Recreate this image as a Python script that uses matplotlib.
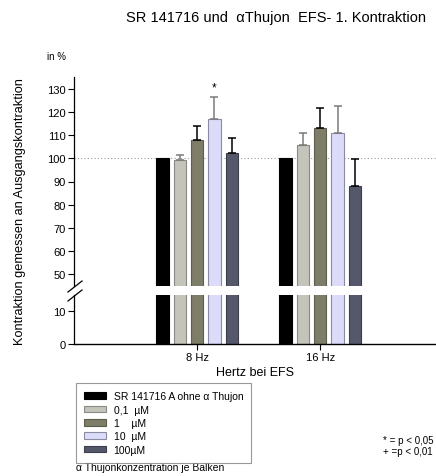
import numpy as np
import matplotlib.pyplot as plt
from matplotlib.patches import Patch

plt.rcParams['font.family'] = ['Liberation Sans', 'DejaVu Sans']

# Data
groups = ["8 Hz", "16 Hz"]
series = ["SR 141716 A ohne α Thujon", "0,1  µM", "1    µM", "10  µM", "100µM"]
values = np.array([
    [100, 99.1, 107.7, 116.9, 102.2],    # 8 Hz
    [100, 105.7, 112.9, 110.9, 88.2],    # 16 Hz
])
errors = np.array([
    [0, 2.2, 6.1, 9.5, 6.7],
    [0, 5.2, 8.9, 11.5, 11.5],
])
colors = ["#000000", "#c4c4ba", "#7d7d68", "#dcdcfa", "#55586a"]
edges = ["#000000", "#8a8a84", "#5e5e50", "#8c8ca0", "#3c3e4c"]
err_colors = ["black", "#7a7a7a", "black", "#7a7a7a", "black"]

W, H = 436, 477
fig = plt.figure(figsize=(W / 100, H / 100), dpi=100)

x0, x1 = 74, 436
ax_top = fig.add_axes([x0 / W, 1 - 287 / H, (x1 - x0) / W, (287 - 78) / H])
ax_bot = fig.add_axes([x0 / W, 1 - 345 / H, (x1 - x0) / W, (345 - 296) / H])

pos = np.arange(1, len(groups) + 1)
width = 0.1
step = 0.141
offsets = (np.arange(len(series)) - 2) * step

for ax in (ax_top, ax_bot):
    for i in range(len(series)):
        ax.bar(pos + offsets[i], values[:, i], width, color=colors[i],
               edgecolor=edges[i], linewidth=0.8, zorder=2)
    ax.set_xlim(0, 2.94)
    for s in ("top", "right"):
        ax.spines[s].set_visible(False)
    ax.tick_params(axis="y", labelsize=8, length=4, width=0.8, pad=2)
    ax.spines["left"].set_linewidth(0.9)

# error bars (upper only)
for i in range(len(series)):
    if errors[:, i].any():
        ax_top.errorbar(pos + offsets[i], values[:, i],
                        yerr=[np.zeros(len(groups)), errors[:, i]],
                        fmt="none", ecolor=err_colors[i], elinewidth=1.1,
                        capsize=3, capthick=1.1, zorder=3)

ax_top.set_ylim(45, 135)
ax_top.set_yticks(np.arange(50, 131, 10))
ax_top.spines["bottom"].set_visible(False)
ax_top.set_xticks([])
ax_top.axhline(100, color="#999999", linestyle=(0, (1, 2)), linewidth=0.8, zorder=1)
ax_top.text(pos[0] + offsets[3], 130.5, "*", ha="center", va="center", fontsize=8.5)

ax_bot.set_ylim(0, 15)
ax_bot.set_yticks([0, 10])
ax_bot.set_xticks(pos)
ax_bot.set_xticklabels(groups)
ax_bot.tick_params(axis="x", labelsize=8, length=4, width=0.8, pad=2)
ax_bot.spines["bottom"].set_linewidth(1.0)
ax_bot.set_xlabel("Hertz bei EFS", fontsize=9, labelpad=3)

# axis break marks
for dy in (0, 9):
    fig.add_artist(plt.Line2D([68 / W, 82 / W], [1 - (293 + dy) / H, 1 - (282 + dy) / H],
                              color="black", linewidth=0.9))

fig.text(276 / W, 1 - 18 / H, "SR 141716 und  αThujon  EFS- 1. Kontraktion",
         ha="center", va="center", fontsize=10.5)
fig.text(56 / W, 1 - 57 / H, "in %", ha="center", va="center", fontsize=7)
fig.text(20 / W, 1 - 212 / H, "Kontraktion gemessen an Ausgangskontraktion",
         rotation=90, ha="center", va="center", fontsize=9.2)

handles = [Patch(facecolor=c, edgecolor=e, linewidth=0.8) for c, e in zip(colors, edges)]
leg = fig.legend(handles, series, loc="upper left",
                 bbox_to_anchor=(76 / W, 1 - 384 / H), fontsize=7.5,
                 frameon=True, fancybox=False, edgecolor="#808080",
                 handlelength=2.1, handleheight=0.6, labelspacing=0.32,
                 handletextpad=0.7, borderpad=0.8, borderaxespad=0)
leg.get_frame().set_linewidth(0.8)

fig.text(76 / W, 1 - 468 / H, "α Thujonkonzentration je Balken", ha="left",
         va="center", fontsize=7.5)
fig.text(383 / W, 1 - 441 / H, "* = p < 0,05", ha="left", va="center", fontsize=7)
fig.text(383 / W, 1 - 452 / H, "+ =p < 0,01", ha="left", va="center", fontsize=7)

fig.savefig("out.png", dpi=100)
